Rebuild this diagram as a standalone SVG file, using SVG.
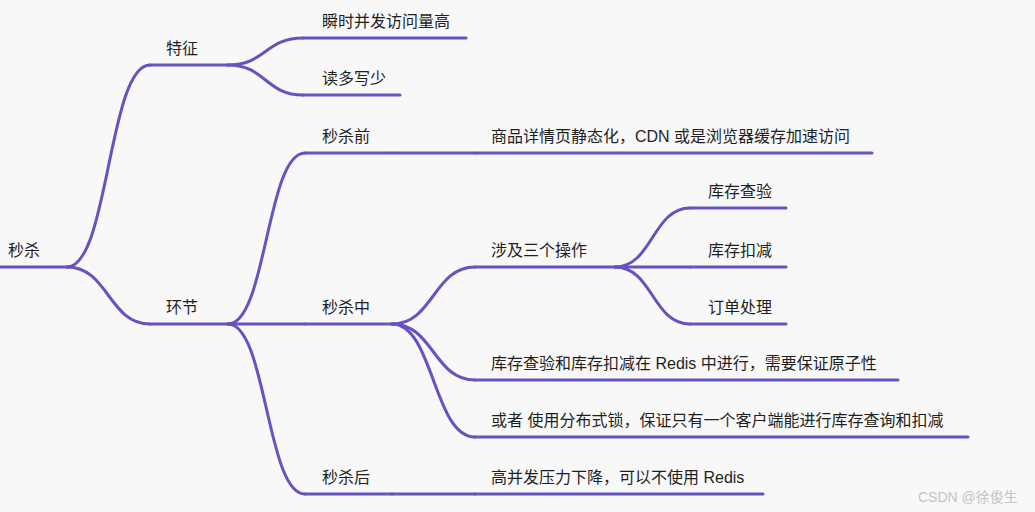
<svg xmlns="http://www.w3.org/2000/svg" width="1035" height="512" viewBox="0 0 1035 512">
  <style>
    .bg { fill: #f8f8f8; }
    .ln { fill: none; stroke: #6553c0; stroke-width: 3; stroke-linecap: round; }
    .t { font-family: "Liberation Sans", "Noto Sans CJK SC", sans-serif; font-size: 16px; fill: #1f1f1f; }
    .wm { font-family: "Liberation Sans", "Noto Sans CJK SC", sans-serif; font-size: 14px; fill: #c4c4c4; }
  </style>
  <rect class="bg" x="0" y="0" width="1035" height="512"/>
  <g id="connectors">
    <path class="ln" d="M67 267 C108.5 267 108.5 65 150 65"/>
    <path class="ln" d="M67 267 C108.5 267 108.5 324 150 324"/>
    <path class="ln" d="M228 65 C265.5 65 265.5 38 303 38"/>
    <path class="ln" d="M228 65 C265.5 65 265.5 95 303 95"/>
    <path class="ln" d="M228 324 C266.5 324 266.5 153 305 153"/>
    <path class="ln" d="M228 324 L305 324"/>
    <path class="ln" d="M228 324 C266.5 324 266.5 494 305 494"/>
    <path class="ln" d="M392 153 L475 153"/>
    <path class="ln" d="M392 324 C433.5 324 433.5 267 475 267"/>
    <path class="ln" d="M392 324 C433.5 324 433.5 380 475 380"/>
    <path class="ln" d="M392 324 C433.5 324 433.5 437 475 437"/>
    <path class="ln" d="M392 494 L475 494"/>
    <path class="ln" d="M615 267 C652.5 267 652.5 208 690 208"/>
    <path class="ln" d="M615 267 L690 267"/>
    <path class="ln" d="M615 267 C652.5 267 652.5 324 690 324"/>
  </g>
  <g id="n-root"><path class="ln" d="M-8 267 H67"/><text class="t" x="8" y="256">秒杀</text></g>
  <g id="n-tezheng"><path class="ln" d="M150 65 H228"/><text class="t" x="166" y="54">特征</text></g>
  <g id="n-huanjie"><path class="ln" d="M150 324 H228"/><text class="t" x="166" y="313">环节</text></g>
  <g id="n-shunshi"><path class="ln" d="M303 38 H466"/><text class="t" x="322" y="27">瞬时并发访问量高</text></g>
  <g id="n-duduo"><path class="ln" d="M303 95 H400"/><text class="t" x="322" y="84">读多写少</text></g>
  <g id="n-qian"><path class="ln" d="M305 153 H392"/><text class="t" x="322" y="142">秒杀前</text></g>
  <g id="n-shangpin"><path class="ln" d="M475 153 H872"/><text class="t" x="491" y="142">商品详情页静态化，CDN 或是浏览器缓存加速访问</text></g>
  <g id="n-zhong"><path class="ln" d="M305 324 H392"/><text class="t" x="322" y="313">秒杀中</text></g>
  <g id="n-hou"><path class="ln" d="M305 494 H392"/><text class="t" x="322" y="483">秒杀后</text></g>
  <g id="n-gaobingfa"><path class="ln" d="M475 494 H763"/><text class="t" x="491" y="483">高并发压力下降，可以不使用 Redis</text></g>
  <g id="n-sheji"><path class="ln" d="M475 267 H615"/><text class="t" x="491" y="256">涉及三个操作</text></g>
  <g id="n-redis"><path class="ln" d="M475 380 H898"/><text class="t" x="491" y="369">库存查验和库存扣减在 Redis 中进行，需要保证原子性</text></g>
  <g id="n-lock"><path class="ln" d="M475 437 H968"/><text class="t" x="491" y="426">或者 使用分布式锁，保证只有一个客户端能进行库存查询和扣减</text></g>
  <g id="n-chayan"><path class="ln" d="M690 208 H786"/><text class="t" x="708" y="197">库存查验</text></g>
  <g id="n-koujian"><path class="ln" d="M690 267 H786"/><text class="t" x="708" y="256">库存扣减</text></g>
  <g id="n-dingdan"><path class="ln" d="M690 324 H786"/><text class="t" x="708" y="313">订单处理</text></g>
  <text class="wm" x="918" y="502">CSDN @徐俊生</text>
</svg>
